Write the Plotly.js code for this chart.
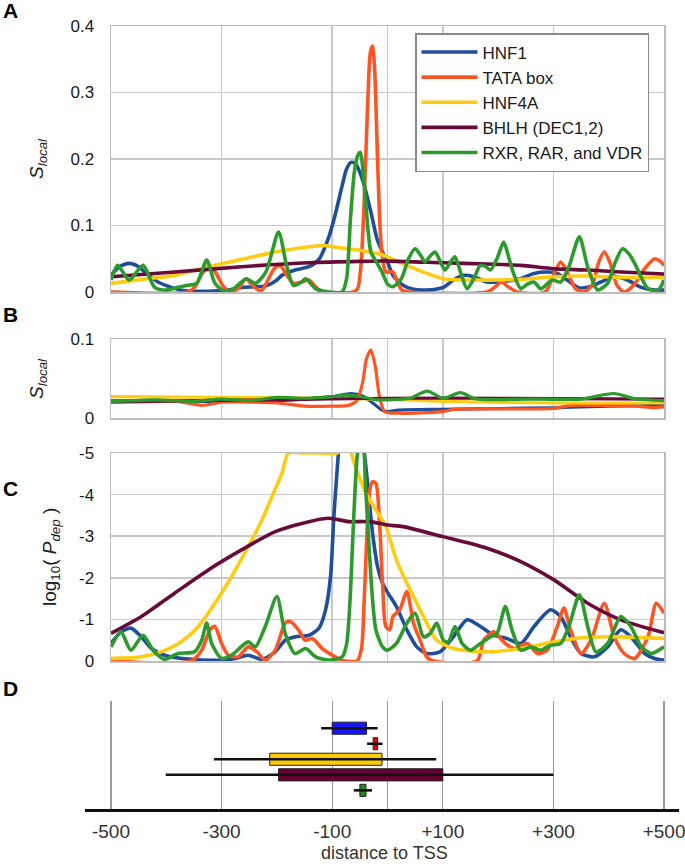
<!DOCTYPE html>
<html><head><meta charset="utf-8">
<script src="https://cdn.plot.ly/plotly-3.0.1.min.js"></script>
<style>html,body{margin:0;padding:0;background:#fff}#chart{width:685px;height:866px}</style>
</head><body><div id="chart"></div>
<script>
// ---------------- data ----------------
const seriesNames = ['HNF1', 'TATA box', 'HNF4A', 'BHLH (DEC1,2)', 'RXR, RAR, and VDR'];

// Panel A: S_local
const aX_hnf1 = [-500,-485,-467,-450,-439,-415,-391,-367,-324,-288,-264,-221,-200,-191,-167,-142,-124,-106,-94,-82,-74,-66,-58,-50,-42,-30,-19,-9,0,10,28,47,71,101,119,138,156,180,210,240,265,289,307,325,344,362,386,410,434,459,483,500];
const aY_hnf1 = [0.025,0.038,0.043,0.038,0.03,0.015,0.007,0.002,0.001,0.003,0.007,0.009,0.018,0.025,0.033,0.038,0.049,0.083,0.118,0.16,0.185,0.195,0.193,0.18,0.16,0.12,0.08,0.06,0.045,0.025,0.01,0.004,0.003,0.007,0.018,0.025,0.023,0.015,0.016,0.02,0.028,0.03,0.028,0.018,0.007,0.007,0.015,0.023,0.018,0.007,0.003,0.003];
const aX_tata = [-500,-360,-348,-335,-322,-310,-298,-285,-270,-256,-242,-228,-215,-205,-194,-182,-170,-156,-142,-130,-118,-62,-54,-48,-42,-36,-31,-27,-23,-18,-13,-8,-3,3,10,18,26,40,180,195,206,218,235,285,300,313,325,340,355,370,382,392,402,415,428,445,465,483,495,500];
const aY_tata = [0,0,0.008,0.028,0.04,0.028,0.01,0,0.005,0.02,0.008,0.002,0.02,0.035,0.04,0.025,0.013,0.015,0.018,0.008,0,0,0.005,0.04,0.14,0.28,0.36,0.37,0.33,0.2,0.09,0.045,0.03,0.03,0.03,0.015,0.003,0,0,0.008,0.015,0.008,0,0,0.025,0.045,0.03,0.005,0,0.01,0.045,0.06,0.045,0.01,0,0.01,0.035,0.05,0.045,0.04];
const aX_hnf4a = [-500,-445,-385,-324,-264,-203,-142,-115,-82,-45,-10,10,35,71,101,150,241,301,362,422,500];
const aY_hnf4a = [0.013,0.019,0.025,0.038,0.049,0.06,0.068,0.07,0.066,0.062,0.056,0.049,0.04,0.028,0.02,0.018,0.019,0.023,0.024,0.022,0.022];
const aX_bhlh = [-500,-385,-264,-142,-50,0,100,180,241,301,362,422,500];
const aY_bhlh = [0.023,0.03,0.038,0.044,0.046,0.0465,0.044,0.042,0.04,0.035,0.033,0.03,0.027];
const aX_rxr = [-500,-488,-467,-442,-421,-400,-379,-361,-345,-327,-312,-297,-282,-267,-255,-239,-220,-197,-182,-170,-155,-148,-130,-106,-82,-74,-67,-60,-54,-49,-44,-38,-30,-20,-10,0,10,25,38,50,60,68,78,86,96,104,114,122,132,144,156,168,178,186,198,210,220,228,241,253,265,277,298,313,328,347,362,380,398,412,425,436,447,460,471,489,500];
const aY_rxr = [0.018,0.04,0.018,0.04,0.007,0.003,0.007,0.01,0.013,0.048,0.013,0.002,0.003,0.013,0.02,0.013,0.03,0.09,0.038,0.01,0.015,0.02,0.005,0,0,0.02,0.11,0.18,0.205,0.21,0.18,0.12,0.06,0.045,0.03,0.012,0.008,0.02,0.05,0.065,0.055,0.045,0.055,0.06,0.045,0.033,0.045,0.053,0.03,0.005,0.02,0.04,0.038,0.033,0.05,0.075,0.05,0.028,0.005,0.012,0.015,0.005,0.018,0.015,0.038,0.083,0.038,0.003,0.013,0.045,0.065,0.058,0.043,0.02,0.005,0.002,0.018];

// Panel B: S_local (control)
const bX_hnf1 = [-500,-400,-300,-200,-150,-100,-66,-45,-25,-10,0,20,100,200,300,400,500];
const bY_hnf1 = [0.02,0.021,0.021,0.022,0.024,0.027,0.031,0.028,0.018,0.01,0.008,0.01,0.011,0.012,0.013,0.015,0.016];
const bX_tata = [-500,-380,-335,-300,-200,-150,-100,-70,-55,-45,-38,-30,-22,-14,-5,20,100,120,300,330,400,450,480,500];
const bY_tata = [0.022,0.021,0.016,0.02,0.019,0.015,0.015,0.016,0.022,0.045,0.075,0.086,0.065,0.025,0.008,0.006,0.008,0.011,0.012,0.016,0.016,0.015,0.013,0.014];
const bX_hnf4a = [-500,-300,-100,0,100,300,500];
const bY_hnf4a = [0.027,0.026,0.025,0.024,0.021,0.019,0.019];
const bX_bhlh = [-500,-200,0,200,500];
const bY_bhlh = [0.021,0.023,0.025,0.025,0.024];
const bX_rxr = [-500,-420,-350,-300,-250,-200,-150,-100,-74,-40,-20,0,40,72,100,132,160,250,350,409,450,500];
const bY_rxr = [0.021,0.023,0.021,0.024,0.022,0.026,0.025,0.027,0.029,0.026,0.023,0.023,0.025,0.034,0.025,0.032,0.024,0.024,0.024,0.031,0.024,0.022];

// Panel C: log10(P_dep)
const cX_hnf1 = [-500,-482,-464,-445,-427,-403,-355,-300,-276,-252,-227,-203,-185,-167,-142,-124,-112,-103,-97,-91,-85,-66,-45,-36,-27,-18,-9,0,16,35,53,71,95,119,144,168,192,216,241,265,295,313,331,350,374,398,422,440,465,483,500];
const cY_hnf1 = [-0.42,-0.7,-0.79,-0.58,-0.3,-0.14,-0.04,-0.02,-0.06,-0.14,-0.04,-0.22,-0.5,-0.58,-0.62,-0.79,-1.23,-2.03,-3.47,-4.6,-5.5,-6.5,-5.3,-4.27,-3.07,-2.27,-1.87,-1.65,-1.31,-0.75,-0.34,-0.18,-0.22,-0.58,-0.99,-0.83,-0.62,-0.54,-0.42,-0.83,-1.23,-1.07,-0.58,-0.18,-0.1,-0.34,-0.75,-0.58,-0.18,-0.06,-0.02];
const cX_tata = [-500,-355,-336,-321,-312,-300,-288,-270,-252,-236,-221,-203,-185,-176,-161,-149,-136,-118,-100,-82,-55,-47,-42,-38,-33,-27,-21,-15,-9,-3,4,10,22,35,47,59,71,83,162,174,192,210,228,253,271,289,307,319,331,350,368,392,410,428,447,471,486,500];
const cY_tata = [0,0,-0.26,-0.75,-0.83,-0.42,-0.14,-0.1,-0.34,-0.22,-0.02,-0.26,-0.91,-0.95,-0.75,-0.5,-0.54,-0.3,-0.14,-0.02,0,-0.3,-1.5,-2.8,-4.03,-4.31,-4.27,-3.47,-1.87,-0.83,-0.75,-1.07,-1.23,-1.67,-0.91,-0.5,-0.1,0,0,-0.5,-0.7,-0.46,-0.3,-0.42,-0.18,-0.26,-0.83,-1.27,-0.75,-0.18,-0.5,-1.39,-0.58,-0.18,-0.06,-0.58,-1.39,-1.15];
const cX_hnf4a = [-500,-445,-409,-373,-342,-312,-282,-252,-227,-209,-191,-179,-150,-120,-90,-75,-58,-39,-21,-3,16,35,53,71,89,119,180,241,301,362,422,500];
const cY_hnf4a = [-0.06,-0.1,-0.22,-0.46,-0.83,-1.39,-2.03,-2.75,-3.39,-3.95,-4.51,-5,-5,-5,-5,-5.3,-4.67,-4.03,-3.63,-3.23,-2.43,-1.87,-1.39,-0.91,-0.5,-0.3,-0.22,-0.3,-0.46,-0.57,-0.58,-0.54];
const cX_bhlh = [-500,-445,-385,-324,-264,-203,-142,-106,-70,-33,0,28,100,180,241,301,362,422,500];
const cY_bhlh = [-0.665,-1.07,-1.63,-2.19,-2.67,-3.11,-3.35,-3.43,-3.35,-3.35,-3.27,-3.23,-2.99,-2.71,-2.39,-1.95,-1.39,-0.99,-0.68];
const cX_rxr = [-500,-482,-464,-442,-424,-403,-379,-349,-336,-327,-318,-300,-282,-252,-239,-221,-200,-185,-167,-148,-130,-106,-82,-74,-68,-61,-55,-50,-45,-40,-33,-27,-21,-9,0,16,35,50,65,77,89,101,110,122,135,150,168,186,198,213,225,241,259,277,295,313,328,347,362,377,398,422,440,459,477,500];
const cY_rxr = [-0.34,-0.7,-0.26,-0.62,-0.26,-0.04,-0.18,-0.22,-0.5,-0.91,-0.42,-0.06,-0.14,-0.46,-0.34,-0.83,-1.55,-0.66,-0.18,-0.3,-0.1,-0.02,-0.1,-0.4,-1.4,-3.47,-4.9,-5.3,-5.3,-4.27,-2.67,-1.47,-0.75,-0.34,-0.26,-0.42,-0.91,-1.15,-0.58,-0.66,-0.91,-0.5,-0.46,-0.83,-0.42,-0.26,-0.42,-0.58,-0.66,-1.31,-0.75,-0.26,-0.34,-0.26,-0.38,-0.42,-0.83,-1.59,-0.83,-0.22,-0.42,-1.07,-0.83,-0.34,-0.18,-0.34];

// Panel D: position distributions (box = q1..q3, whiskers = low..high)
const dLow  = [-120, -37, -314, -401, -61];
const dQ1   = [-100, -26, -213, -197, -50];
const dQ3   = [-38,  -18, -10,  100,  -39];
const dHigh = [-18,  -9,  88,   300,  -28];

// axis tick labels
const xTickVals = [-500, -300, -100, 100, 300, 500];
const xTickText = ['-500', '-300', '-100', '+100', '+300', '+500'];
const xGridVals = [-500, -300, -100, 0, 100, 300, 500];
const aTickVals = [0, 0.1, 0.2, 0.3, 0.4];
const aTickText = ['0', '0.1', '0.2', '0.3', '0.4'];
const bTickVals = [0, 0.1];
const bTickText = ['0', '0.1'];
const cTickVals = [0, -1, -2, -3, -4, -5];
const cTickText = ['0', '-1', '-2', '-3', '-4', '-5'];

// ---------------- styling ----------------
const lineColors = ['#1f4e9a', '#ff5522', '#ffcc11', '#690b3a', '#2c9a2c'];
const boxColors  = ['#1515ff', '#e00000', '#ffcc00', '#660033', '#1f8b1f'];
const W = 685, H = 866;
const px = v => v / W;
const py = v => 1 - v / H;
const FONT = 'Liberation Sans, Arial, sans-serif';

const panelA = [[aX_hnf1,aY_hnf1],[aX_tata,aY_tata],[aX_hnf4a,aY_hnf4a],[aX_bhlh,aY_bhlh],[aX_rxr,aY_rxr]];
const panelB = [[bX_hnf1,bY_hnf1],[bX_tata,bY_tata],[bX_hnf4a,bY_hnf4a],[bX_bhlh,bY_bhlh],[bX_rxr,bY_rxr]];
const panelC = [[cX_hnf1,cY_hnf1],[cX_tata,cY_tata],[cX_hnf4a,cY_hnf4a],[cX_bhlh,cY_bhlh],[cX_rxr,cY_rxr]];

const traces = [];
function addPanel(panel, xa, ya, width, legend) {
  panel.forEach(([xs, ys], i) => {
    traces.push({
      type: 'scatter', mode: 'lines', x: xs, y: ys, xaxis: xa, yaxis: ya,
      name: seriesNames[i], legendgroup: 'g' + i, showlegend: legend,
      line: {color: lineColors[i], width: width, shape: 'spline', smoothing: 0.7},
      hoverinfo: 'skip'
    });
  });
}
addPanel(panelA, 'x', 'y', 3.6, true);
addPanel(panelB, 'x2', 'y2', 3.2, false);
addPanel(panelC, 'x3', 'y3', 3.6, false);

// whiskers
const wx = [], wy = [];
seriesNames.forEach((n, i) => { wx.push(dLow[i], dHigh[i], null); wy.push(n, n, null); });
traces.push({type: 'scatter', mode: 'lines', x: wx, y: wy, xaxis: 'x4', yaxis: 'y4',
  line: {color: '#111', width: 2.6}, showlegend: false, hoverinfo: 'skip', connectgaps: false});
// boxes
traces.push({type: 'bar', orientation: 'h', y: seriesNames, base: dQ1,
  x: dQ3.map((v, i) => v - dQ1[i]), xaxis: 'x4', yaxis: 'y4', width: 0.78,
  marker: {color: boxColors, line: {color: '#222', width: 1}}, showlegend: false, hoverinfo: 'skip'});

const gridCommon = {showgrid: true, gridcolor: '#c9c9c9', gridwidth: 1.5, zeroline: false,
  showline: true, mirror: true, linecolor: '#bdbdbd', linewidth: 1.5, ticks: '', fixedrange: true};
const xCommon = Object.assign({}, gridCommon, {domain: [px(111), px(664)], range: [-500, 500],
  tickvals: xGridVals, showticklabels: false});
const yTickFont = {family: FONT, size: 17, color: '#1a1a1a'};

const layout = {
  width: W, height: H, margin: {l: 0, r: 0, t: 0, b: 0},
  paper_bgcolor: '#fff', plot_bgcolor: '#fff',
  font: {family: FONT, size: 16, color: '#1a1a1a'},
  showlegend: true,
  legend: {x: px(415), y: py(33), xanchor: 'left', yanchor: 'top', bgcolor: '#fff',
    bordercolor: '#8a8a8a', borderwidth: 1.5, font: {family: FONT, size: 17, color: '#1a1a1a'},
    traceorder: 'grouped', tracegroupgap: 0, itemwidth: 56},
  xaxis:  Object.assign({}, xCommon, {anchor: 'y'}),
  xaxis2: Object.assign({}, xCommon, {anchor: 'y2'}),
  xaxis3: Object.assign({}, xCommon, {anchor: 'y3'}),
  yaxis:  Object.assign({}, gridCommon, {anchor: 'x', domain: [py(292), py(26)], range: [0, 0.4],
    tickvals: aTickVals, ticktext: aTickText, tickfont: yTickFont, ticklabelstandoff: 12}),
  yaxis2: Object.assign({}, gridCommon, {anchor: 'x2', domain: [py(418), py(339)], range: [0, 0.1],
    tickvals: bTickVals, ticktext: bTickText, tickfont: yTickFont, ticklabelstandoff: 12}),
  yaxis3: Object.assign({}, gridCommon, {anchor: 'x3', domain: [py(661), py(453)], range: [0, -5],
    tickvals: cTickVals, ticktext: cTickText, tickfont: yTickFont, ticklabelstandoff: 12}),
  xaxis4: {anchor: 'y4', domain: [px(85), px(679)], range: [-547, 527], tickvals: xTickVals,
    ticktext: xTickText, tickfont: {family: FONT, size: 19, color: '#333'}, ticks: '',
    ticklabeloverflow: 'allow',
    showgrid: true, gridcolor: '#9a9a9a', gridwidth: 1.2, zeroline: false,
    minor: {tickvals: [0], showgrid: true, gridcolor: '#9a9a9a', gridwidth: 1.2, ticks: ''},
    showline: true, linecolor: '#111', linewidth: 2.6, ticklabelstandoff: 4, fixedrange: true},
  yaxis4: {anchor: 'x4', domain: [py(809), py(700.7)], type: 'category', categoryarray: seriesNames,
    categoryorder: 'array', range: [5.2, -1.77], visible: false, fixedrange: true},
  barmode: 'overlay',
  annotations: [
    {text: '<b>A</b>', x: px(10), y: py(11)},
    {text: '<b>B</b>', x: px(10), y: py(314)},
    {text: '<b>C</b>', x: px(10), y: py(488)},
    {text: '<b>D</b>', x: px(10), y: py(688)}
  ].map(a => Object.assign(a, {xref: 'paper', yref: 'paper', showarrow: false,
    xanchor: 'center', yanchor: 'middle', font: {family: FONT, size: 21, color: '#000'}})).concat([
    {text: '<i>S</i><sub><i>local</i></sub>', x: px(38), y: py(159)},
    {text: '<i>S</i><sub><i>local</i></sub>', x: px(38), y: py(379)},
    {text: 'log<sub>10</sub>( <i>P</i><sub><i>dep</i></sub> )', x: px(51), y: py(557)}
  ].map(a => Object.assign(a, {xref: 'paper', yref: 'paper', showarrow: false, textangle: -90,
    xanchor: 'center', yanchor: 'middle', font: {family: FONT, size: 19, color: '#1a1a1a'}}))).concat([
    {text: 'distance to TSS', x: px(384), y: py(853), xref: 'paper', yref: 'paper', showarrow: false,
     xanchor: 'center', yanchor: 'middle', font: {family: FONT, size: 18, color: '#333'}}
  ])
};

Plotly.newPlot('chart', traces, layout, {displayModeBar: false, staticPlot: true});
</script>
</body></html>
